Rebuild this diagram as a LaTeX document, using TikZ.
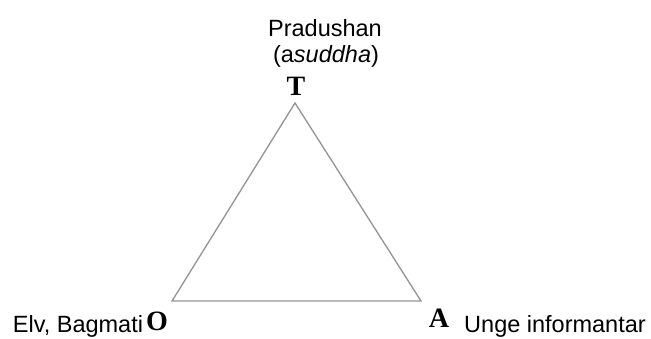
\documentclass[tikz,border=0pt]{standalone}
\usepackage{fontspec}
\setmainfont{Liberation Sans}
\newfontfamily\serifb{Liberation Serif}
\begin{document}
\begin{tikzpicture}[x=1pt,y=-1pt,
  lbl/.style={font=\fontsize{23.5}{26}\selectfont, inner sep=0pt},
  vtx/.style={font=\serifb\bfseries\fontsize{28}{30}\selectfont, inner sep=0pt},
  side/.style={draw=gray!85, line width=1.3pt}]
\useasboundingbox (0,0) rectangle (651,339);
\coordinate (t) at (295,103);
\coordinate (o) at (172,301);
\coordinate (a) at (421,301);
\draw[side] (t) -- (o) -- (a) -- cycle;
\node[vtx] (T) at (296,86) {T};
\node[vtx] (O) at (157,321) {O};
\node[vtx] (A) at (439,318) {A};
\node[lbl] (p1) at (325,28) {Pradushan};
\node[lbl] (p2) at (326,56) {(a\textit{suddha})};
\node[lbl] (elv) at (78,326) {Elv, Bagmati};
\node[lbl] (unge) at (555,326) {Unge informantar};
\end{tikzpicture}
\end{document}
